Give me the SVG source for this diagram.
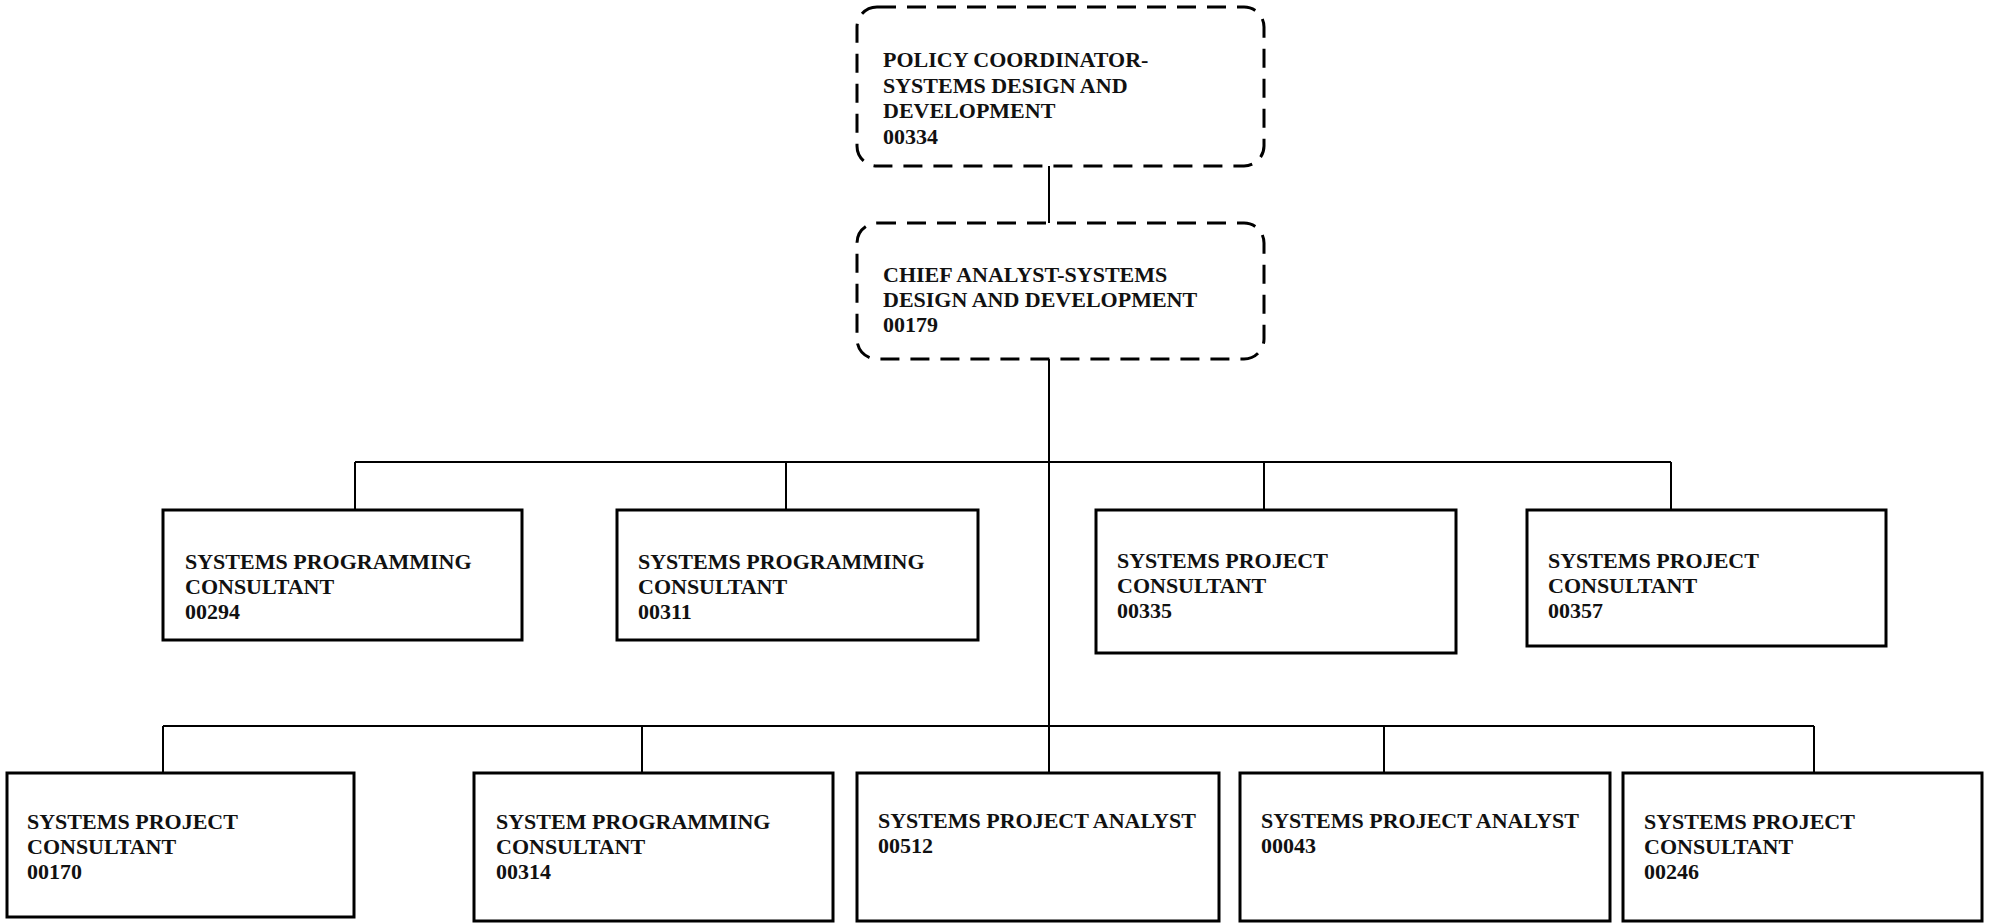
<svg xmlns="http://www.w3.org/2000/svg" width="1996" height="923" viewBox="0 0 1996 923">
  <style>
    .box { fill: #ffffff; stroke: #000000; stroke-width: 3; }
    .dashed { fill: #ffffff; stroke: #000000; stroke-width: 3; stroke-dasharray: 19 11; }
    .link { fill: none; stroke: #000000; stroke-width: 2; }
    text { font-family: "Liberation Serif", "Times New Roman", serif; font-weight: bold; font-size: 22px; fill: #111111; }
  </style>
  <rect width="1996" height="923" fill="#ffffff"/>

  <!-- connectors -->
  <g id="connectors">
    <line class="link" x1="1049" y1="166" x2="1049" y2="223"/>
    <line class="link" x1="1049" y1="359" x2="1049" y2="773"/>
    <line class="link" x1="355" y1="462" x2="1671" y2="462"/>
    <line class="link" x1="355" y1="462" x2="355" y2="510"/>
    <line class="link" x1="786" y1="462" x2="786" y2="510"/>
    <line class="link" x1="1264" y1="462" x2="1264" y2="510"/>
    <line class="link" x1="1671" y1="462" x2="1671" y2="510"/>
    <line class="link" x1="163" y1="726" x2="1814" y2="726"/>
    <line class="link" x1="163" y1="726" x2="163" y2="773"/>
    <line class="link" x1="642" y1="726" x2="642" y2="773"/>
    <line class="link" x1="1384" y1="726" x2="1384" y2="773"/>
    <line class="link" x1="1814" y1="726" x2="1814" y2="773"/>
  </g>

  <!-- top level -->
  <g id="node-00334">
    <rect class="dashed" x="857" y="7" width="407" height="159" rx="20" ry="20"/>
    <text x="883" y="67">POLICY COORDINATOR-</text>
    <text x="883" y="92.5">SYSTEMS DESIGN AND</text>
    <text x="883" y="118">DEVELOPMENT</text>
    <text x="883" y="143.5">00334</text>
  </g>

  <g id="node-00179">
    <rect class="dashed" x="857" y="223" width="407" height="136" rx="20" ry="20"/>
    <text x="883" y="282">CHIEF ANALYST-SYSTEMS</text>
    <text x="883" y="307">DESIGN AND DEVELOPMENT</text>
    <text x="883" y="332">00179</text>
  </g>

  <!-- first row -->
  <g id="node-00294">
    <rect class="box" x="163" y="510" width="359" height="130"/>
    <text x="185" y="569">SYSTEMS PROGRAMMING</text>
    <text x="185" y="594">CONSULTANT</text>
    <text x="185" y="619">00294</text>
  </g>

  <g id="node-00311">
    <rect class="box" x="617" y="510" width="361" height="130"/>
    <text x="638" y="569">SYSTEMS PROGRAMMING</text>
    <text x="638" y="594">CONSULTANT</text>
    <text x="638" y="619">00311</text>
  </g>

  <g id="node-00335">
    <rect class="box" x="1096" y="510" width="360" height="143"/>
    <text x="1117" y="568">SYSTEMS PROJECT</text>
    <text x="1117" y="593">CONSULTANT</text>
    <text x="1117" y="618">00335</text>
  </g>

  <g id="node-00357">
    <rect class="box" x="1527" y="510" width="359" height="136"/>
    <text x="1548" y="568">SYSTEMS PROJECT</text>
    <text x="1548" y="593">CONSULTANT</text>
    <text x="1548" y="618">00357</text>
  </g>

  <!-- second row -->
  <g id="node-00170">
    <rect class="box" x="7" y="773" width="347" height="144"/>
    <text x="27" y="829">SYSTEMS PROJECT</text>
    <text x="27" y="854">CONSULTANT</text>
    <text x="27" y="879">00170</text>
  </g>

  <g id="node-00314">
    <rect class="box" x="474" y="773" width="359" height="148"/>
    <text x="496" y="829">SYSTEM PROGRAMMING</text>
    <text x="496" y="854">CONSULTANT</text>
    <text x="496" y="879">00314</text>
  </g>

  <g id="node-00512">
    <rect class="box" x="857" y="773" width="362" height="148"/>
    <text x="878" y="828">SYSTEMS PROJECT ANALYST</text>
    <text x="878" y="853">00512</text>
  </g>

  <g id="node-00043">
    <rect class="box" x="1240" y="773" width="370" height="148"/>
    <text x="1261" y="828">SYSTEMS PROJECT ANALYST</text>
    <text x="1261" y="853">00043</text>
  </g>

  <g id="node-00246">
    <rect class="box" x="1623" y="773" width="359" height="148"/>
    <text x="1644" y="829">SYSTEMS PROJECT</text>
    <text x="1644" y="854">CONSULTANT</text>
    <text x="1644" y="879">00246</text>
  </g>
</svg>
